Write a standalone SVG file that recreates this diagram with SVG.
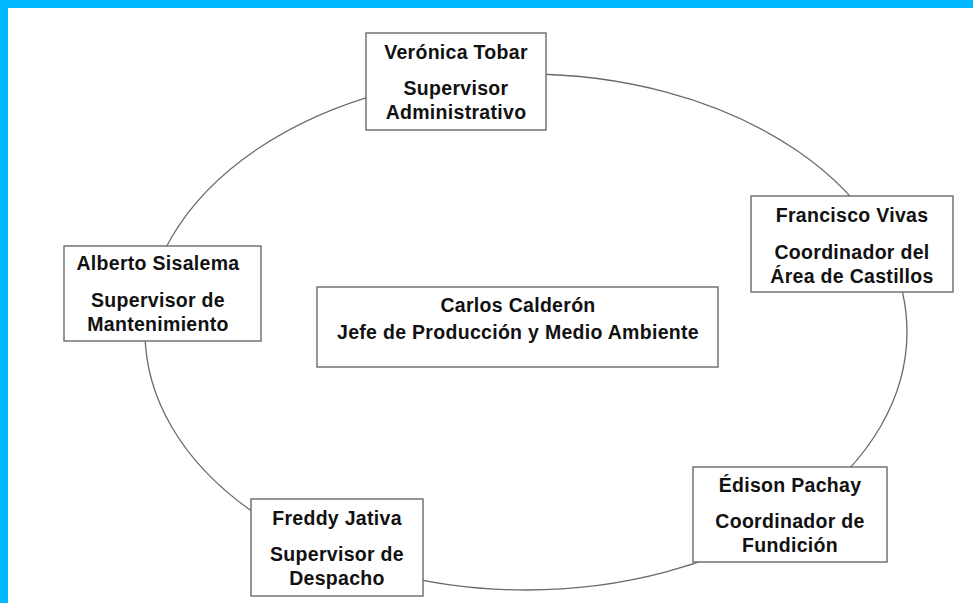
<svg xmlns="http://www.w3.org/2000/svg" width="973" height="603" viewBox="0 0 973 603">
<style>
.box{fill:#fff;stroke:#6a6a6a;stroke-width:1.4}
.t{font-family:"Liberation Sans",Arial,sans-serif;font-weight:bold;font-size:19.5px;fill:#111;text-anchor:middle;letter-spacing:0.3px}
.ring{fill:none;stroke:#6a6a6a;stroke-width:1.3}
</style>
<rect x="0" y="0" width="973" height="603" fill="#fff"/>
<rect x="0" y="0" width="973" height="8" fill="#00B8FF"/>
<rect x="0" y="0" width="8" height="603" fill="#00B8FF"/>
<g id="connectors">
<ellipse class="ring" cx="526" cy="332" rx="381" ry="258"/>
</g>
<g id="veronica">
<rect class="box" x="366" y="33" width="180" height="97"/>
<text class="t" x="456" y="59">Verónica Tobar</text>
<text class="t" x="456" y="95">Supervisor</text>
<text class="t" x="456" y="119">Administrativo</text>
</g>
<g id="francisco">
<rect class="box" x="751" y="196" width="202" height="96"/>
<text class="t" x="852" y="222">Francisco Vivas</text>
<text class="t" x="852" y="259">Coordinador del</text>
<text class="t" x="852" y="283">Área de Castillos</text>
</g>
<g id="alberto">
<rect class="box" x="64" y="246" width="197" height="95"/>
<text class="t" x="158" y="270">Alberto Sisalema</text>
<text class="t" x="158" y="307">Supervisor de</text>
<text class="t" x="158" y="331">Mantenimiento</text>
</g>
<g id="carlos">
<rect class="box" x="317" y="287" width="401" height="80"/>
<text class="t" x="518" y="312">Carlos Calderón</text>
<text class="t" x="518" y="339">Jefe de Producción y Medio Ambiente</text>
</g>
<g id="edison">
<rect class="box" x="693" y="467" width="194" height="95"/>
<text class="t" x="790" y="492">Édison Pachay</text>
<text class="t" x="790" y="528">Coordinador de</text>
<text class="t" x="790" y="552">Fundición</text>
</g>
<g id="freddy">
<rect class="box" x="251" y="499" width="172" height="97"/>
<text class="t" x="337" y="525">Freddy Jativa</text>
<text class="t" x="337" y="561">Supervisor de</text>
<text class="t" x="337" y="585">Despacho</text>
</g>
</svg>
